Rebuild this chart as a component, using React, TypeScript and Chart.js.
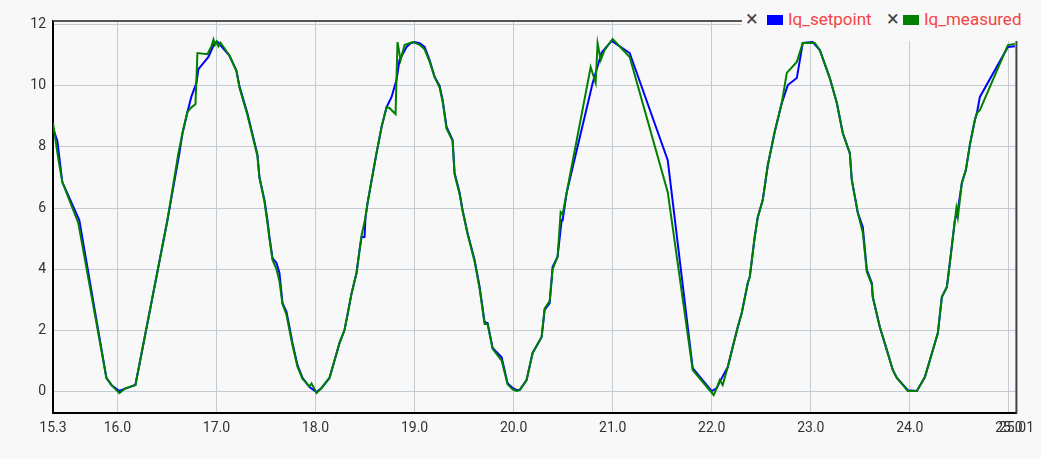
import React, { useEffect, useRef } from "react";
import { Chart, registerables } from "chart.js";

Chart.register(...registerables);

// ---------------- data ----------------
const X_MIN = 15.35;
const X_MAX = 25.076;
const Y_MIN = -0.72;
const Y_MAX = 12.13;

const xTickValues = [15.35, 16, 17, 18, 19, 20, 21, 22, 23, 24, 25, 25.076];
const xTickLabels = ["15.3", "16.0", "17.0", "18.0", "19.0", "20.0", "21.0", "22.0", "23.0", "24.0", "25.0", "25.01"];
const yTickValues = [0, 2, 4, 6, 8, 10, 12];

const seriesNames = ["Iq_setpoint", "Iq_measured"];
const seriesColors = ["#0000ff", "#008000"];

const setpoint: [number, number][] = [
  [15.35, 8.62], [15.394, 8.2], [15.444, 6.85], [15.616, 5.6], [15.889, 0.43], [15.939, 0.2],
  [16.02, 0.0], [16.071, 0.07], [16.182, 0.2], [16.505, 5.6], [16.626, 7.8], [16.657, 8.45],
  [16.707, 9.15], [16.747, 9.65], [16.798, 10.1], [16.818, 10.55], [16.919, 10.95], [16.98, 11.4],
  [17.01, 11.45], [17.131, 11.0], [17.202, 10.5], [17.232, 10.0], [17.313, 9.1], [17.414, 7.75],
  [17.434, 7.0], [17.485, 6.26], [17.515, 5.6], [17.535, 5.05], [17.566, 4.36], [17.606, 4.2],
  [17.636, 3.87], [17.667, 2.88], [17.707, 2.6], [17.737, 2.1], [17.768, 1.57], [17.818, 0.85],
  [17.869, 0.43], [17.899, 0.3], [17.939, 0.13], [18.01, -0.03], [18.061, 0.1], [18.141, 0.43],
  [18.192, 1.0], [18.242, 1.57], [18.293, 2.0], [18.323, 2.5], [18.364, 3.2], [18.414, 3.87],
  [18.444, 4.6], [18.465, 5.05], [18.495, 5.05], [18.505, 5.7], [18.525, 6.15], [18.566, 6.9],
  [18.616, 7.8], [18.667, 8.66], [18.717, 9.3], [18.768, 9.64], [18.818, 10.2], [18.848, 10.85],
  [18.919, 11.28], [18.96, 11.4], [19.0, 11.44], [19.051, 11.4], [19.101, 11.28], [19.152, 10.85],
  [19.202, 10.3], [19.253, 10.0], [19.283, 9.54], [19.323, 8.66], [19.384, 8.23], [19.404, 7.15],
  [19.455, 6.5], [19.485, 5.93], [19.535, 5.18], [19.606, 4.3], [19.657, 3.41], [19.707, 2.26],
  [19.737, 2.23], [19.788, 1.41], [19.879, 1.11], [19.939, 0.26], [19.99, 0.1], [20.03, 0.03],
  [20.061, 0.03], [20.131, 0.36], [20.192, 1.25], [20.283, 1.77], [20.313, 2.66], [20.364, 2.88],
  [20.394, 4.07], [20.444, 4.4], [20.485, 5.6], [20.495, 5.6], [20.535, 6.49], [20.798, 10.1],
  [20.889, 11.1], [20.99, 11.48], [21.172, 11.08], [21.556, 7.57], [21.808, 0.75], [22.0, 0.0],
  [22.051, 0.1], [22.081, 0.3], [22.162, 0.79], [22.212, 1.44], [22.263, 2.1], [22.303, 2.56],
  [22.364, 3.54], [22.384, 3.74], [22.434, 5.05], [22.465, 5.7], [22.515, 6.26], [22.566, 7.4],
  [22.636, 8.5], [22.707, 9.44], [22.768, 10.03], [22.859, 10.26], [22.919, 11.41], [23.02, 11.44],
  [23.091, 11.18], [23.192, 10.26], [23.263, 9.44], [23.323, 8.46], [23.394, 7.8], [23.414, 6.92],
  [23.475, 5.84], [23.525, 5.38], [23.566, 3.97], [23.616, 3.54], [23.626, 3.08], [23.697, 2.1],
  [23.768, 1.34], [23.828, 0.69], [23.869, 0.43], [23.98, 0.03], [24.071, 0.0], [24.152, 0.46],
  [24.283, 1.9], [24.323, 3.08], [24.374, 3.41], [24.404, 4.2], [24.455, 5.6], [24.485, 5.93],
  [24.525, 6.82], [24.566, 7.25], [24.606, 8.07], [24.657, 8.89], [24.677, 9.11], [24.707, 9.64],
  [24.99, 11.28], [25.061, 11.3],
];

const measured: [number, number][] = [
  [15.35, 8.79], [15.404, 7.6], [15.444, 6.85], [15.606, 5.5], [15.889, 0.43], [15.939, 0.2],
  [16.02, -0.07], [16.071, 0.07], [16.182, 0.2], [16.505, 5.6], [16.616, 7.8], [16.657, 8.45],
  [16.707, 9.15], [16.747, 9.3], [16.788, 9.4], [16.808, 11.08], [16.909, 11.04], [16.95, 11.3],
  [16.97, 11.52], [16.985, 11.35], [17.0, 11.45], [17.02, 11.3], [17.04, 11.42], [17.131, 11.0],
  [17.202, 10.5], [17.232, 9.95], [17.313, 9.05], [17.414, 7.7], [17.434, 7.0], [17.485, 6.2],
  [17.515, 5.5], [17.535, 5.0], [17.566, 4.3], [17.606, 4.0], [17.636, 3.6], [17.667, 2.85],
  [17.707, 2.5], [17.737, 2.0], [17.768, 1.5], [17.818, 0.8], [17.869, 0.4], [17.899, 0.3],
  [17.939, 0.15], [17.96, 0.25], [18.01, -0.07], [18.061, 0.1], [18.141, 0.43], [18.192, 1.0],
  [18.242, 1.57], [18.293, 2.0], [18.323, 2.5], [18.364, 3.2], [18.414, 3.87], [18.444, 4.6],
  [18.465, 5.1], [18.505, 5.7], [18.525, 6.15], [18.566, 6.9], [18.616, 7.8], [18.667, 8.66],
  [18.717, 9.3], [18.747, 9.28], [18.808, 9.08], [18.828, 11.44], [18.859, 10.85], [18.899, 11.34],
  [18.98, 11.44], [19.0, 11.42], [19.051, 11.35], [19.101, 11.2], [19.152, 10.8], [19.202, 10.3],
  [19.253, 9.95], [19.283, 9.5], [19.323, 8.6], [19.384, 8.2], [19.404, 7.1], [19.455, 6.45],
  [19.485, 5.9], [19.535, 5.15], [19.606, 4.25], [19.657, 3.35], [19.707, 2.2], [19.737, 2.2],
  [19.788, 1.38], [19.879, 1.0], [19.939, 0.22], [19.99, 0.05], [20.03, 0.0], [20.061, 0.03],
  [20.131, 0.36], [20.192, 1.25], [20.283, 1.77], [20.313, 2.7], [20.364, 2.95], [20.394, 4.0],
  [20.444, 4.4], [20.475, 5.87], [20.495, 5.8], [20.535, 6.49], [20.778, 10.62], [20.828, 10.1],
  [20.848, 11.4], [20.879, 10.85], [20.919, 11.18], [21.0, 11.54], [21.172, 10.95], [21.556, 6.52],
  [21.808, 0.69], [22.02, -0.13], [22.051, 0.1], [22.081, 0.36], [22.111, 0.2], [22.162, 0.79],
  [22.212, 1.44], [22.263, 2.1], [22.303, 2.56], [22.364, 3.54], [22.384, 3.74], [22.434, 5.05],
  [22.465, 5.7], [22.515, 6.26], [22.566, 7.4], [22.636, 8.5], [22.707, 9.44], [22.758, 10.43],
  [22.859, 10.79], [22.919, 11.41], [23.04, 11.41], [23.091, 11.18], [23.192, 10.26], [23.263, 9.44],
  [23.323, 8.46], [23.394, 7.8], [23.414, 6.92], [23.475, 5.84], [23.525, 5.2], [23.566, 3.9],
  [23.616, 3.5], [23.626, 3.08], [23.697, 2.1], [23.768, 1.34], [23.828, 0.69], [23.869, 0.43],
  [23.98, 0.0], [24.071, 0.0], [24.152, 0.46], [24.283, 1.9], [24.323, 3.08], [24.374, 3.41],
  [24.404, 4.2], [24.455, 5.6], [24.47, 6.0], [24.485, 5.7], [24.525, 6.82], [24.566, 7.25],
  [24.606, 8.07], [24.657, 8.89], [24.677, 9.11], [24.707, 9.21], [24.99, 11.34], [25.061, 11.38],
];

// ---------------- styling ----------------
const BG = "#f8f8f8";
const GRID = "#c3ccd4";
const TEXT = "#333333";
const LEGEND_TEXT = "#f44444";

const framePlugin = {
  id: "frame",
  afterDatasetsDraw(chart: any) {
    const { ctx, chartArea: a } = chart;
    ctx.save();
    ctx.lineWidth = 2;
    ctx.strokeStyle = "#555555";
    ctx.beginPath();
    ctx.moveTo(a.left, a.top);
    ctx.lineTo(a.right + 1, a.top);
    ctx.stroke();
    ctx.strokeStyle = "#444444";
    ctx.beginPath();
    ctx.moveTo(a.right, a.top);
    ctx.lineTo(a.right, a.bottom);
    ctx.stroke();
    ctx.restore();
  },
};

export default function App() {
  const ref = useRef<HTMLCanvasElement | null>(null);

  useEffect(() => {
    if (!ref.current) return;
    const series = [setpoint, measured];
    const chart = new Chart(ref.current, {
      type: "scatter",
      data: {
        datasets: series.map((s, i) => ({
          label: seriesNames[i],
          data: s.map(([x, y]) => ({ x, y })),
          showLine: true,
          borderColor: seriesColors[i],
          backgroundColor: seriesColors[i],
          borderWidth: 2,
          pointRadius: 0,
          pointHoverRadius: 0,
          tension: 0,
          order: i === 0 ? 2 : 1,
        })),
      },
      options: {
        animation: false,
        responsive: false,
        devicePixelRatio: 1,
        layout: { padding: { top: 21, right: 24.5, left: 0, bottom: 0 } },
        plugins: { legend: { display: false }, tooltip: { enabled: false } },
        font: { family: "Roboto", size: 14 },
        scales: {
          x: {
            type: "linear",
            min: X_MIN,
            max: X_MAX,
            afterBuildTicks: (scale: any) => {
              scale.ticks = xTickValues.map((v) => ({ value: v }));
            },
            afterFit: (scale: any) => {
              scale.height = 46;
            },
            ticks: {
              autoSkip: false,
              maxRotation: 0,
              minRotation: 0,
              padding: 7,
              color: TEXT,
              font: { family: "Roboto", size: 14 },
              callback: (_v: any, idx: number) => xTickLabels[idx],
            },
            grid: {
              drawTicks: false,
              color: (c: any) =>
                c.tick && Number.isInteger(c.tick.value) ? GRID : "rgba(0,0,0,0)",
              lineWidth: 1,
            },
            border: { color: "#000000", width: 2 },
          },
          y: {
            type: "linear",
            min: Y_MIN,
            max: Y_MAX,
            afterBuildTicks: (scale: any) => {
              scale.ticks = yTickValues.map((v) => ({ value: v }));
            },
            afterFit: (scale: any) => {
              scale.width = 53;
            },
            ticks: {
              padding: 7,
              color: TEXT,
              font: { family: "Roboto", size: 14 },
              callback: (v: any) => String(v),
            },
            grid: { drawTicks: false, color: GRID, lineWidth: 1 },
            border: { color: "#000000", width: 2 },
          },
        },
      },
      plugins: [framePlugin],
    });
    return () => chart.destroy();
  }, []);

  const legendItem = (i: number, xX: number, sqX: number, txX: number) => (
    <React.Fragment key={i}>
      <span
        style={{
          position: "absolute",
          left: xX,
          top: 6,
          fontFamily: "Roboto",
          fontSize: 22,
          lineHeight: "26px",
          color: "#444444",
        }}
      >
        ×
      </span>
      <span
        style={{
          position: "absolute",
          left: sqX,
          top: 15,
          width: 16,
          height: 10,
          background: seriesColors[i],
        }}
      />
      <span
        style={{
          position: "absolute",
          left: txX,
          top: 9,
          fontFamily: "Roboto",
          fontSize: 17,
          lineHeight: "20px",
          color: LEGEND_TEXT,
          whiteSpace: "nowrap",
        }}
      >
        {seriesNames[i]}
      </span>
    </React.Fragment>
  );

  return (
    <div
      style={{
        position: "absolute",
        left: 0,
        top: 0,
        width: 1041,
        height: 459,
        background: BG,
      }}
    >
      <canvas ref={ref} width={1041} height={459} style={{ display: "block" }} />
      <div
        style={{
          position: "absolute",
          left: 742,
          top: 0,
          width: 299,
          height: 41,
          background: BG,
        }}
      >
        {legendItem(0, 4, 25, 46)}
        {legendItem(1, 145, 161, 182)}
      </div>
    </div>
  );
}
